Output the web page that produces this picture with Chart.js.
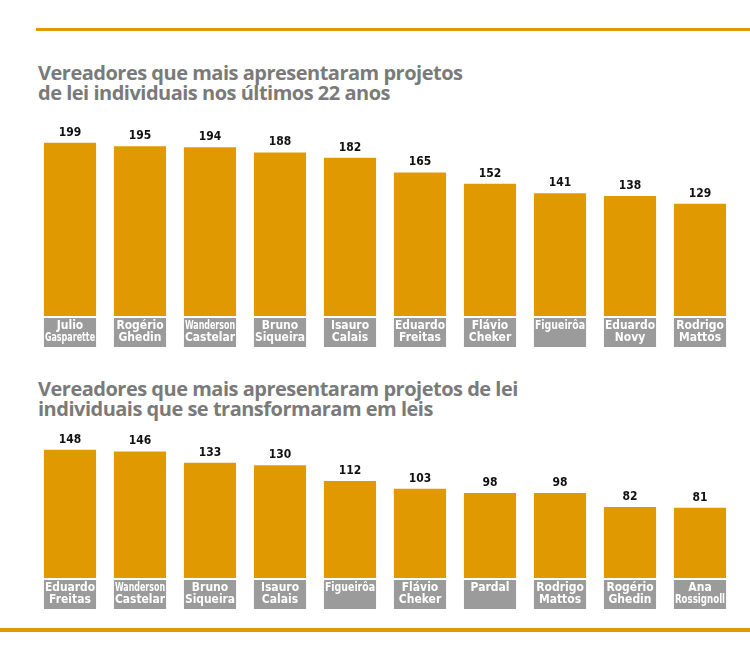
<!DOCTYPE html>
<html>
<head>
<meta charset="utf-8">
<script src="https://cdn.jsdelivr.net/npm/chart.js@4/dist/chart.umd.min.js"></script>
<style>
  body { margin: 0; background: #fff; }
  #page { position: relative; width: 750px; height: 655px; overflow: hidden; }
  .rule { position: absolute; background: #e09a00; }
  .title {
    position: absolute; left: 38px; color: #7a7a7a;
    font-family: "Open Sans", sans-serif; font-weight: 700; font-size: 20px;
    line-height: 20px; letter-spacing: -0.5px;
  }
  canvas { position: absolute; left: 0; }
</style>
</head>
<body>
<div id="page">
  <div class="rule" style="left:36px; top:28px; width:714px; height:3px;"></div>
  <div class="title" style="top:63px;">Vereadores que mais apresentaram projetos<br>de lei individuais nos últimos 22 anos</div>
  <canvas id="chart1" width="750" height="240" style="top:110px;"></canvas>
  <div class="title" style="top:379px;">Vereadores que mais apresentaram projetos de lei<br>individuais que se transformaram em leis</div>
  <canvas id="chart2" width="750" height="192" style="top:420px;"></canvas>
  <div class="rule" style="left:0; top:628px; width:750px; height:4px;"></div>
</div>
<script>
// dados do primeiro grafico
const nomes1 = [['Julio', 'Gasparette'], ['Rogério', 'Ghedin'], ['Wanderson', 'Castelar'], ['Bruno', 'Siqueira'], ['Isauro', 'Calais'],
  ['Eduardo', 'Freitas'], ['Flávio', 'Cheker'], ['Figueirôa'], ['Eduardo', 'Novy'], ['Rodrigo', 'Mattos']];
const projetos1 = [199, 195, 194, 188, 182, 165, 152, 141, 138, 129];

// dados do segundo grafico
const nomes2 = [['Eduardo', 'Freitas'], ['Wanderson', 'Castelar'], ['Bruno', 'Siqueira'], ['Isauro', 'Calais'], ['Figueirôa'],
  ['Flávio', 'Cheker'], ['Pardal'], ['Rodrigo', 'Mattos'], ['Rogério', 'Ghedin'], ['Ana', 'Rossignoll']];
const leis2 = [148, 146, 133, 130, 112, 103, 98, 98, 82, 81];

const laranja = '#e09a00';
const cinza = '#9b9b9b';

// caixas cinzas com os nomes + valores em cima das barras
const caixasNomes = {
  id: 'caixasNomes',
  afterDatasetsDraw(chart) {
    const ctx = chart.ctx;
    const meta = chart.getDatasetMeta(0);
    const base = chart.scales.y.getPixelForValue(0);
    const valores = chart.data.datasets[0].data;
    ctx.save();
    ctx.textAlign = 'center';
    meta.data.forEach((bar, i) => {
      const w = bar.width;
      ctx.fillStyle = cinza;
      ctx.fillRect(bar.x - w / 2, base + 2, w, 29);

      ctx.fillStyle = '#fff';
      ctx.font = 'bold 12px "DejaVu Sans Condensed", "Liberation Sans Narrow", sans-serif';
      ctx.textBaseline = 'middle';
      chart.data.labels[i].forEach((linha, j) => {
        ctx.fillText(linha, bar.x, base + 10 + j * 11.5, w - 2);
      });

      ctx.fillStyle = '#111';
      ctx.font = 'bold 12px "DejaVu Sans Condensed", "Liberation Sans Narrow", sans-serif';
      ctx.textBaseline = 'alphabetic';
      ctx.fillText(valores[i], bar.x, bar.y - 7);
    });
    ctx.restore();
  }
};

function criaGrafico(id, nomes, valores, maximo, topo) {
  return new Chart(document.getElementById(id), {
    type: 'bar',
    data: {
      labels: nomes,
      datasets: [{
        data: valores,
        backgroundColor: laranja,
        borderWidth: 0,
        barPercentage: 0.745,
        categoryPercentage: 1
      }]
    },
    options: {
      responsive: false,
      animation: false,
      layout: { padding: { left: 35, right: 15, top: topo, bottom: 34 } },
      plugins: { legend: { display: false }, tooltip: { enabled: false } },
      scales: {
        x: { display: false, grid: { display: false } },
        y: { display: false, min: 0, max: maximo, grid: { display: false } }
      }
    },
    plugins: [caixasNomes]
  });
}

criaGrafico('chart1', nomes1, projetos1, 200, 32);
criaGrafico('chart2', nomes2, leis2, 150, 28);
</script>
</body>
</html>
